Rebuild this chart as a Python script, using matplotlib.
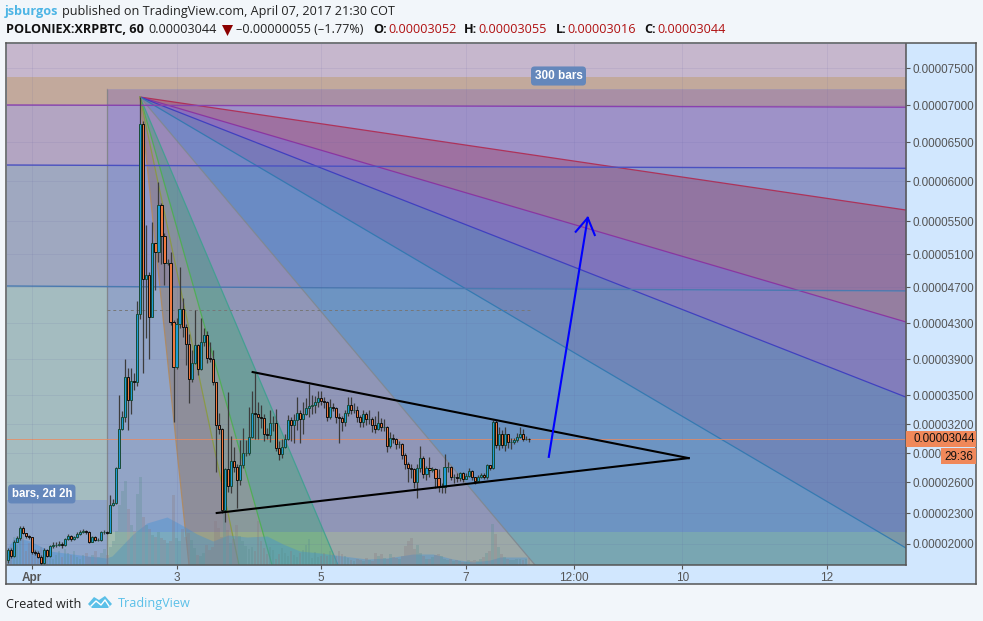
import numpy as np
import matplotlib
matplotlib.use('Agg')
import matplotlib.pyplot as plt
from matplotlib.patches import Polygon
from matplotlib.transforms import Affine2D

# price axis is neither linear nor log, so keep price -> height (px above the bottom) pairs
scale_prices = [1797, 2000, 2300, 2600, 2900, 3200, 3500, 3900, 4300, 4700, 5100, 5500, 6000, 6500, 7000, 7500, 7824]
scale_heights = [0, 21, 52, 83, 112, 141, 170, 206, 242, 278, 311, 344, 384, 423, 460, 497, 521]
price_ticks = [2000, 2300, 2600, 2900, 3200, 3500, 3900, 4300, 4700, 5100, 5500, 6000, 6500, 7000, 7500]
day_ticks = [1, 3, 5, 7, 8.5, 10, 12]
day_labels = ['Apr', '3', '5', '7', '12:00', '10', '12']

# hourly candles, prices in satoshi
first_day = 1 - 8 / 24
first_open = 1845
closes = [1942, 1884, 2023, 2055, 2155, 2107, 2078, 2065, 1925, 1915,
          1878, 1813, 1942, 1884, 1981, 1990, 1990, 2000, 1990, 2045,
          2078, 2045, 2065, 2095, 2116, 2122, 2120, 2023, 2065, 2040,
          2040, 2116, 2116, 2110, 2377, 2397, 2744, 3150, 3272, 3700,
          3450, 3655, 3640, 4400, 6743, 4797, 4845, 4367, 5233, 5124,
          5700, 5320, 4990, 4990, 4310, 3810, 4290, 4455, 4255, 4070,
          3680, 3855, 4055, 3790, 4090, 4165, 3910, 3900, 3640, 3190,
          3150, 2330, 2730, 2560, 2820, 2755, 2620, 2775, 2900, 2900,
          3070, 3315, 3305, 3270, 3260, 3095, 3085, 3210, 3210, 2950,
          2890, 2965, 3045, 3240, 3190, 3240, 3315, 3250, 3305, 3370,
          3390, 3395, 3430, 3470, 3440, 3430, 3270, 3375, 3370, 3270,
          3260, 3220, 3315, 3395, 3350, 3350, 3270, 3220, 3305, 3250,
          3250, 3190, 3150, 3210, 3170, 3170, 2970, 3055, 3045, 2990,
          2990, 2880, 2790, 2745, 2735, 2600, 2745, 2850, 2685, 2745,
          2720, 2730, 2640, 2550, 2550, 2755, 2755, 2650, 2650, 2640,
          2690, 2630, 2660, 2710, 2650, 2610, 2650, 2670, 2650, 2775,
          2745, 3220, 2980, 3095, 2980, 3095, 3015, 3015, 3035, 3070,
          3095, 3050, 3050, 3044]
highs = [1960, 1960, 2040, 2080, 2170, 2170, 2110, 2090, 2070, 1940,
         1930, 1890, 1960, 1950, 1995, 2020, 2015, 2030, 2020, 2060,
         2095, 2085, 2080, 2120, 2140, 2145, 2140, 2130, 2080, 2075,
         2055, 2130, 2135, 2125, 2474, 2440, 2760, 3500, 3330, 3900,
         3800, 3800, 3740, 4550, 7108, 6790, 5450, 4885, 5490, 5230,
         5990, 5720, 5360, 5040, 5120, 4330, 4360, 4940, 4580, 4290,
         4180, 4000, 4445, 4070, 4355, 4250, 4210, 4090, 4000, 3650,
         3310, 3160, 2750, 3530, 3080, 2960, 2790, 3030, 3160, 3030,
         3375, 3540, 3740, 3430, 3400, 3300, 3160, 3340, 3280, 3360,
         3020, 3050, 3100, 3290, 3270, 3300, 3480, 3340, 3430, 3470,
         3620, 3500, 3490, 3540, 3550, 3480, 3440, 3460, 3420, 3380,
         3310, 3280, 3340, 3480, 3480, 3420, 3390, 3290, 3340, 3320,
         3340, 3270, 3280, 3330, 3260, 3250, 3180, 3120, 3100, 3060,
         3020, 3000, 2900, 2810, 2790, 2740, 2790, 2970, 2870, 2770,
         2860, 2760, 2750, 2730, 2590, 2890, 2810, 2770, 2680, 2690,
         2700, 2700, 2690, 2740, 2720, 2650, 2670, 2690, 2690, 2790,
         2780, 3240, 3240, 3170, 3140, 3170, 3100, 3060, 3060, 3110,
         3170, 3150, 3080, 3055]
lows = [1815, 1860, 1870, 2015, 2040, 2095, 2060, 2050, 1900, 1895,
        1860, 1790, 1805, 1870, 1875, 1965, 1975, 1980, 1965, 1980,
        2040, 2030, 2035, 2055, 2090, 2105, 2100, 2010, 2015, 2025,
        2025, 2030, 2100, 2095, 2105, 2370, 2385, 2930, 3140, 3220,
        3140, 3300, 3555, 3600, 4350, 3740, 4130, 3900, 4380, 4670,
        5000, 4980, 4720, 4970, 4280, 3220, 3790, 4250, 4150, 3830,
        3420, 3640, 3840, 3720, 3780, 4050, 3860, 3870, 3610, 2700,
        3100, 2300, 2210, 2500, 2490, 2700, 2350, 2570, 2750, 2870,
        2880, 3060, 3040, 3040, 3160, 3020, 3040, 3010, 3130, 2920,
        2830, 2850, 2950, 3030, 3020, 3000, 3140, 3000, 3100, 3290,
        3270, 3300, 3310, 3380, 3400, 3370, 3230, 3250, 3330, 3210,
        3000, 3130, 3180, 3280, 3300, 3310, 3220, 3170, 3170, 3190,
        3200, 3120, 3110, 3140, 3130, 3130, 2910, 2950, 3000, 2940,
        2950, 2840, 2730, 2600, 2640, 2540, 2450, 2700, 2640, 2620,
        2650, 2700, 2540, 2500, 2490, 2490, 2700, 2620, 2590, 2600,
        2610, 2600, 2630, 2650, 2620, 2580, 2600, 2640, 2630, 2630,
        2720, 2730, 2950, 2930, 2950, 2920, 2950, 2940, 2990, 3010,
        3060, 3020, 3030, 3016]
volumes = [12, 18, 28, 20, 25, 30, 14, 22, 20, 16,
           15, 18, 10, 12, 8, 6, 10, 14, 8, 16,
           12, 10, 14, 8, 6, 10, 12, 8, 10, 14,
           8, 12, 16, 10, 18, 24, 34, 60, 74, 84,
           56, 40, 34, 71, 88, 48, 40, 36, 30, 28,
           33, 27, 25, 22, 24, 70, 27, 24, 36, 28,
           32, 25, 17, 10, 9, 12, 20, 15, 18, 44,
           37, 28, 58, 35, 22, 26, 40, 29, 24, 19,
           16, 18, 14, 44, 24, 17, 11, 18, 15, 6,
           11, 17, 12, 9, 14, 10, 8, 12, 15, 20,
           26, 7, 13, 8, 9, 12, 9, 14, 11, 9,
           14, 11, 9, 7, 5, 4, 6, 5, 4, 7,
           5, 4, 12, 9, 11, 7, 6, 11, 8, 7,
           6, 9, 19, 24, 27, 16, 20, 12, 9, 6,
           6, 8, 10, 11, 9, 6, 5, 6, 4, 5,
           4, 3, 3, 5, 4, 5, 4, 6, 8, 12,
           14, 41, 31, 18, 11, 8, 6, 5, 5, 6,
           6, 5, 6, 7]
vol_ma_days = [0.668, 0.765, 0.972, 1.249, 1.664, 2.024, 2.107, 2.398, 2.591, 2.868, 3.048, 3.283, 3.504, 3.712, 3.975,
               4.252, 4.473, 4.708, 4.985, 5.303, 5.635, 5.912, 6.272, 6.549, 6.825, 7.102, 7.337, 7.476, 7.849]
vol_ma = [18, 28, 24, 14, 10, 7, 9, 31, 42, 48, 41, 31, 24, 30, 28, 29, 21, 14, 12, 9, 6, 7, 11, 11, 6, 3, 5, 8, 8]

# drawings on top of the chart: (day, price)
x_min, x_max = 0.654, 13.094
y_min, y_max = 1797, 7824
box_day = 2.038
fan_origin = (2.494, 7108)
fan_ends = [(13.094, 5637), (13.094, 4311), (13.094, 3478), (13.094, 1961),
            (7.960, 1797), (5.234, 1797), (4.321, 1797), (3.864, 1797), (3.172, 1797)]
fan_line_colors = ['#b02a50', '#8a2fa0', '#3a3ac0', '#2f78b0', '#808890', '#3fa090', '#4caf50', '#8a9a40', '#b08a60']
fan_fill_colors = ['#a01030', '#560c9c', '#0a2f90', '#0068ba', '#8e708e', '#068c1e', '#727c1e', '#86501a']
left_levels = [7824, 7378, 7000, 6205, 4712, 2426, 1797]
left_colors = ['#c6b7cd', '#c2a99c', '#b3a5c2', '#9fa8c0', '#a4bcc0', '#8fa5c8']
right_levels_a = [7824, 7378, 7216, 7000, 6205, 4712, 2116, 1797]
right_levels_b = [7824, 7378, 7216, 6970, 6163, 4656, 2116, 1797]
right_colors = ['#c6b7cd', '#c2a99c', '#a98fa5', '#9e92c8', '#8e97c8', '#92a4c6', '#a2bcb0']
level_lines = [(7000, 6970, '#8a40b0'), (6205, 6163, '#4a50c0'), (4712, 4656, '#4a7ab0')]
upper_trend = ([4.053, 10.087], [3755, 2847])
lower_trend = ([3.556, 10.087], [2300, 2847])
arrow_shaft = ([8.151, 8.690], [2860, 5540])
arrow_head = ([8.524, 8.690, 8.787], [5370, 5540, 5330])
last_price = 3044
dashed_price = 4445
dashed_days = [2.038, 7.9]


def forward(v):
    return np.interp(v, scale_prices, scale_heights)


def inverse(v):
    return np.interp(v, scale_heights, scale_prices)


def fx(x):
    return x / 983


def fy(y):
    return 1 - y / 621


fig = plt.figure(figsize=(9.83, 6.21), dpi=100, facecolor='#f2f6fa')

# light blue frame holding both axes
panel = fig.add_axes([fx(6), fy(584), fx(970), (584 - 43) / 621], facecolor='#d1e7fe')
panel.set_xticks([])
panel.set_yticks([])
for s in panel.spines.values():
    s.set_color('#555555')
    s.set_linewidth(1.1)

ax = fig.add_axes([fx(7), fy(565), fx(899), 521 / 621], zorder=3, facecolor='none')
ax.set_yscale('function', functions=(forward, inverse))

# background bands
for i in range(len(left_colors)):
    ax.fill_between([x_min, box_day], left_levels[i + 1], left_levels[i], color=left_colors[i], lw=0, zorder=0)
for i in range(len(right_colors)):
    ax.fill_between([box_day, x_max], [right_levels_a[i + 1], right_levels_b[i + 1]],
                    [right_levels_a[i], right_levels_b[i]], color=right_colors[i], lw=0, zorder=0)
ax.plot([box_day, box_day], [y_min, 7216], color='#777777', lw=0.9, alpha=0.8, zorder=1)
ax.plot([box_day, x_max], [7216, 7216], color='#a08898', lw=0.5, zorder=1)

# fan fills and lines
for i in range(len(fan_fill_colors)):
    a = fan_ends[i]
    b = fan_ends[i + 1]
    pts = [fan_origin, a]
    if a[0] == x_max and b[0] != x_max:
        pts.append((x_max, y_min))
    pts.append(b)
    ax.add_patch(Polygon(pts, closed=True, fc=fan_fill_colors[i], ec='none', alpha=0.25, zorder=1))
for e, c in zip(fan_ends, fan_line_colors):
    ax.plot([fan_origin[0], e[0]], [fan_origin[1], e[1]], color=c, lw=0.9, alpha=0.9, zorder=1.2)
for a, b, c in level_lines:
    ax.plot([x_min, x_max], [a, b], color=c, lw=1, zorder=1.2)

# volume lives in its own px-high units along the bottom of the axes
days = first_day + np.arange(len(closes)) / 24
opens = np.array([first_open] + closes[:-1], dtype=float)
closes_a = np.array(closes, dtype=float)
rising = closes_a >= opens
vol_trans = Affine2D().scale(1, 1 / 521) + ax.get_xaxis_transform()
ax.fill_between(vol_ma_days, 0, vol_ma, color='#3d8fd8', alpha=0.38, lw=0, transform=vol_trans, zorder=1.5)
ax.bar(days, volumes, width=2.6 / 72.27, color=np.where(rising, '#5a8f90', '#8a7a80'), alpha=0.3,
       transform=vol_trans, zorder=1.6)

ax.plot([x_min, x_max], [last_price, last_price], color='#f0885a', lw=0.7, alpha=0.75, zorder=1.7)
ax.plot(dashed_days, [dashed_price, dashed_price], color='#777777', lw=0.7, ls=(0, (3, 3)), zorder=1.7)

# candles
ax.vlines(days, lows, highs, color='#3c3c3c', lw=0.9, zorder=3)
ax.bar(days, np.abs(closes_a - opens), bottom=np.minimum(opens, closes_a), width=2.1 / 72.27,
       color=np.where(rising, '#1e9bd7', '#f0793f'), edgecolor=np.where(rising, '#1a4d3a', '#111111'),
       linewidth=0.72, zorder=3.2)

# triangle and arrow
ax.plot(*upper_trend, color='black', lw=1.5, zorder=4)
ax.plot(*lower_trend, color='black', lw=1.5, zorder=4)
ax.plot(*arrow_shaft, color='#0000ff', lw=1.5, zorder=4)
ax.plot(*arrow_head, color='#0000ff', lw=1.5, zorder=4)

ax.set_xlim(x_min, x_max)
ax.set_ylim(y_min, y_max)
ax.set_yticks(price_ticks)
# the countdown tag hides the end of the 2900 label
tick_text = ['%.8f' % (p / 1e8) for p in price_ticks]
tick_text[price_ticks.index(2900)] = '0.000'
ax.set_yticklabels(tick_text, family='Liberation Sans', fontsize=8.4, color='#555555')
ax.yaxis.set_minor_locator(matplotlib.ticker.NullLocator())
ax.yaxis.tick_right()
ax.set_xticks(day_ticks)
ax.set_xticklabels(day_labels, family='Liberation Sans', fontsize=8.5, color='#555555')
ax.get_xticklabels()[0].set_fontweight('bold')
ax.tick_params(axis='both', length=3, width=0.8, color='#555555', pad=2)
ax.set_axisbelow(False)
ax.grid(color='#5a5aa0', alpha=0.1, lw=0.7)
ax.spines['left'].set_visible(False)
ax.spines['top'].set_visible(False)
ax.spines['right'].set_color('#555555')
ax.spines['bottom'].set_color('#555555')
ax.spines['right'].set_linewidth(1.1)
ax.spines['bottom'].set_linewidth(1.1)

# price and countdown tags over the axis labels
for x0, y0, x1, y1 in [(906, 431, 976, 447), (941, 448, 976, 464)]:
    fig.add_artist(Polygon([(fx(x0), fy(y0)), (fx(x1), fy(y0)), (fx(x1), fy(y1)), (fx(x0), fy(y1))],
                           closed=True, fc='#f0885a', ec='none', transform=fig.transFigure, zorder=10))
fig.text(fx(913), fy(439), '0.00003044', family='Liberation Sans', fontsize=8.4, color='#111111', va='center', zorder=11)
fig.text(fx(944), fy(456.5), '29:36', family='Liberation Sans', fontsize=8.4, color='#111111', va='center', zorder=11)

# drawing labels
tag = dict(boxstyle='round,pad=0.3,rounding_size=0.3', fc='#6487bb', ec='none')
fig.text(fx(558.5), fy(76), '300 bars', family='Liberation Sans', fontsize=8.5, color='white', fontweight='bold',
         ha='center', va='center', bbox=tag, zorder=11)
fig.text(fx(11.5), fy(494), 'bars, 2d 2h', family='Liberation Sans', fontsize=8.3, color='white', fontweight='bold',
         va='center', bbox=tag, zorder=11)

# header
head = 'Open Sans'
fs = 9.05
fig.text(fx(5), fy(11.5), 'jsburgos', family=head, fontsize=fs, fontweight='bold', color='#4db5e5', va='center')
fig.text(fx(62), fy(11.5), 'published on TradingView.com, April 07, 2017 21:30 COT', family=head, fontsize=fs,
         color='#222222', va='center')
row = [(6, 'POLONIEX:XRPBTC, 60', '#111111', 'bold'), (148, '0.00003044', '#222222', 'normal'),
       (236, '–0.00000055 (–1.77%)', '#222222', 'normal'),
       (373, 'O:', '#111111', 'bold'), (388, '0.00003052', '#b01010', 'normal'),
       (464, 'H:', '#111111', 'bold'), (478, '0.00003055', '#b01010', 'normal'),
       (556, 'L:', '#111111', 'bold'), (567, '0.00003016', '#b01010', 'normal'),
       (644, 'C:', '#111111', 'bold'), (657, '0.00003044', '#b01010', 'normal')]
for x, s, c, w in row:
    fig.text(fx(x), fy(29.5), s, family=head, fontsize=fs, fontweight=w, color=c, va='center')
fig.add_artist(Polygon([(fx(222), fy(25)), (fx(233), fy(25)), (fx(227.5), fy(36))], closed=True, fc='#8b0000',
                       ec='none', transform=fig.transFigure))

# footer with logo
fig.text(fx(6), fy(604), 'Created with', family=head, fontsize=fs, color='#222222', va='center')
fig.text(fx(118), fy(604), 'TradingView', family=head, fontsize=fs, color='#5bc0e8', va='center')
logo = [(88, 604), (94, 597), (99, 600), (105, 596), (112, 604), (108, 608), (92, 608)]
fig.add_artist(Polygon([(fx(a), fy(b)) for a, b in logo], closed=True, fc='#5bc0e8', ec='none', transform=fig.transFigure))
zig = [(91, 606), (96, 601), (101, 605), (105, 600), (109, 606)]
fig.add_artist(plt.Line2D([fx(a) for a, b in zig], [fy(b) for a, b in zig], color='white', lw=1, transform=fig.transFigure))

fig.savefig('out.png', dpi=100, facecolor=fig.get_facecolor())
